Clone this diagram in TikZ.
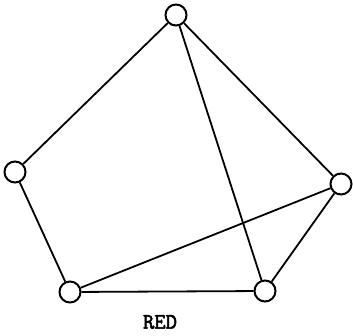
\documentclass[tikz,border=0pt]{standalone}
\usepackage{fontspec}
\newfontfamily\lblfont{Latin Modern Mono}[FakeBold=2.5]
\usepackage{tikz}
\usetikzlibrary{positioning}

\begin{document}
\begin{tikzpicture}[x=1pt, y=-1pt,
  vtx/.style={circle, draw, line width=2pt, minimum size=21pt, inner sep=0pt},
  edge/.style={line width=1.8pt}]
\useasboundingbox (0,0) rectangle (353,336);
\node [vtx] (top) at (176,15) {};
\node [vtx] (left) at (15,172) {};
\node [vtx] (right) at (341,184) {};
\node [vtx] (bl) at (70,292) {};
\node [vtx] (br) at (265,291) {};
\node (lbl) at (160,322) {\fontsize{22}{22}\selectfont\lblfont RED};

\draw [edge] (top) -- (left);
\draw [edge] (top) -- (right);
\draw [edge] (top) -- (br);
\draw [edge] (left) -- (bl);
\draw [edge] (bl) -- (br);
\draw [edge] (bl) -- (right);
\draw [edge] (right) -- (br);
\end{tikzpicture}
\end{document}
